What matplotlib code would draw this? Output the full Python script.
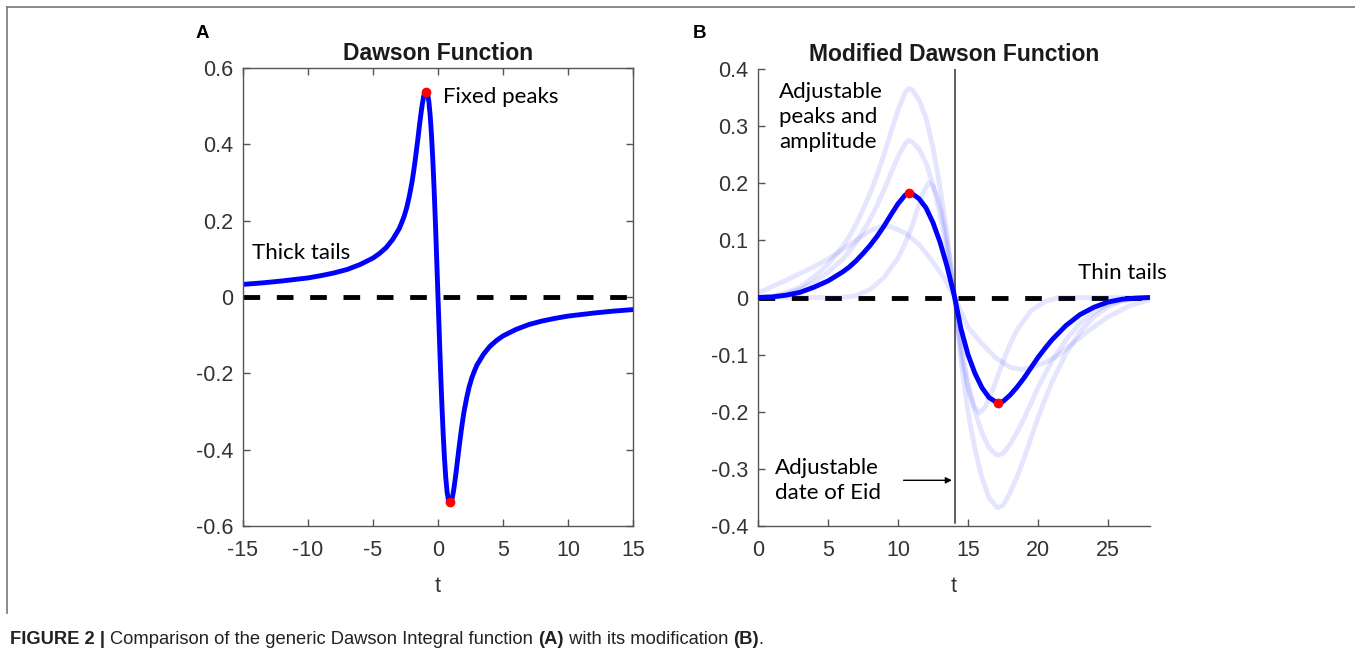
import numpy as np
import matplotlib
matplotlib.use('Agg')
import matplotlib.pyplot as plt
from matplotlib.lines import Line2D

plt.rcParams['font.family'] = ['Liberation Sans', 'DejaVu Sans']
plt.rcParams['lines.scale_dashes'] = False

# panel A: Dawson function
t_a = [-15, -13.5, -12, -10, -9, -8, -7, -6, -5, -4.5, -4, -3.5, -3, -2.8, -2.6, -2.4, -2.2, -2, -1.9, -1.8, -1.7,
       -1.6, -1.5, -1.4, -1.3, -1.2, -1.1, -1.0, -0.92, -0.8, -0.7, -0.6, -0.5, -0.4, -0.3, -0.2, -0.1, 0,
       0.1, 0.2, 0.3, 0.4, 0.5, 0.6, 0.7, 0.8, 0.92, 1.0, 1.1, 1.2, 1.3, 1.4, 1.5, 1.6, 1.7, 1.8, 1.9, 2,
       2.2, 2.4, 2.6, 2.8, 3, 3.5, 4, 4.5, 5, 6, 7, 8, 9, 10, 12, 13.5, 15]
y_a = [0.033, 0.037, 0.042, 0.050, 0.056, 0.063, 0.072, 0.085, 0.102, 0.114, 0.129, 0.150, 0.178, 0.194, 0.212,
       0.235, 0.265, 0.301, 0.323, 0.347, 0.373, 0.400, 0.428, 0.457, 0.483, 0.507, 0.526, 0.538, 0.541, 0.532,
       0.511, 0.475, 0.424, 0.360, 0.283, 0.195, 0.099, 0.0,
       -0.099, -0.195, -0.283, -0.360, -0.424, -0.475, -0.511, -0.532, -0.541, -0.538, -0.526, -0.507, -0.483,
       -0.457, -0.428, -0.400, -0.373, -0.347, -0.323, -0.301, -0.265, -0.235, -0.212, -0.194, -0.178, -0.150,
       -0.129, -0.114, -0.102, -0.085, -0.072, -0.063, -0.056, -0.050, -0.042, -0.037, -0.033]
peaks_a_t = [-0.92, 0.92]
peaks_a_y = [0.537, -0.537]

# panel B: modified Dawson function (main curve and faded variants)
t_b = [0, 1, 2, 3, 4, 5, 6, 6.5, 7, 7.5, 8, 8.5, 9, 9.5, 10, 10.5, 10.75, 11, 11.5, 12, 12.5, 13, 13.5, 14.05,
       14.5, 15, 15.5, 16, 16.5, 17, 17.15, 17.5, 18, 18.5, 19, 19.5, 20, 20.5, 21, 22, 23, 24, 25, 26, 27, 28]
y_b = [0.0, 0.001, 0.004, 0.009, 0.018, 0.029, 0.044, 0.053, 0.064, 0.077, 0.091, 0.107, 0.125, 0.145, 0.164,
       0.179, 0.183, 0.182, 0.173, 0.157, 0.131, 0.097, 0.055, 0.0,
       -0.055, -0.100, -0.133, -0.158, -0.175, -0.183, -0.184, -0.182, -0.171, -0.157, -0.141, -0.123, -0.105,
       -0.089, -0.074, -0.049, -0.030, -0.017, -0.008, -0.003, -0.001, 0.0]
y_big = [0.0, 0.002, 0.008, 0.018, 0.036, 0.058, 0.088, 0.106, 0.128, 0.154, 0.182, 0.214, 0.250, 0.290, 0.328,
         0.358, 0.366, 0.364, 0.346, 0.314, 0.262, 0.194, 0.110, 0.0,
         -0.110, -0.200, -0.266, -0.316, -0.350, -0.366, -0.368, -0.364, -0.342, -0.314, -0.282, -0.246, -0.210,
         -0.178, -0.148, -0.098, -0.060, -0.034, -0.016, -0.006, -0.002, 0.0]
y_mid = [0.0, 0.0015, 0.006, 0.014, 0.027, 0.044, 0.066, 0.080, 0.096, 0.116, 0.137, 0.161, 0.188, 0.218, 0.246,
         0.269, 0.275, 0.273, 0.260, 0.236, 0.197, 0.146, 0.083, 0.0,
         -0.083, -0.150, -0.200, -0.237, -0.263, -0.275, -0.276, -0.273, -0.257, -0.236, -0.212, -0.185, -0.158,
         -0.134, -0.111, -0.074, -0.045, -0.026, -0.012, -0.005, -0.0015, 0.0]
t_c = [0, 6, 7, 8, 9, 10, 10.5, 11, 11.4, 11.8, 12.2, 12.5, 12.8, 13.1, 13.4, 13.7, 14.05, 14.3, 14.6, 15, 15.4,
       15.8, 16.2, 16.6, 17, 17.5, 18, 18.5, 19.5, 20.5, 21.5, 28]
y_c = [0.0, 0.0, 0.003, 0.014, 0.035, 0.069, 0.094, 0.125, 0.155, 0.184, 0.201, 0.195, 0.178, 0.151, 0.113, 0.066,
       0.0, -0.059, -0.111, -0.158, -0.190, -0.202, -0.193, -0.172, -0.146, -0.112, -0.082, -0.057, -0.023, -0.007,
       0.0, 0.0]
t_d = [0, 2, 4, 5, 6, 7, 8, 8.85, 9.5, 10.5, 11.5, 12.5, 13.3, 14.05, 15, 16, 17, 18, 18.8, 19.6, 20.5, 21.5,
       22.5, 23.5, 25, 26.5, 28]
y_d = [0.008, 0.030, 0.054, 0.067, 0.083, 0.100, 0.117, 0.125, 0.124, 0.113, 0.093, 0.062, 0.034, 0.0,
       -0.052, -0.081, -0.106, -0.122, -0.126, -0.122, -0.114, -0.100, -0.080, -0.060, -0.034, -0.015, -0.004]
peaks_b_t = [10.75, 17.15]
peaks_b_y = [0.183, -0.184]
eid_t = 14.05

fig = plt.figure(figsize=(13.55, 6.6), dpi=100)
W, H = 1355, 660

def px_axes(x0, y0, x1, y1):
    return fig.add_axes([x0 / W, 1 - y1 / H, (x1 - x0) / W, (y1 - y0) / H])

tick_col = '#333333'
ann_font = ['Lato', 'DejaVu Sans']
blue = '#0000ff'
faded = (0.0, 0.0, 1.0, 0.1)
lw = 3.5

# ---- panel A ----
ax1 = px_axes(243, 68, 633, 526)
ax1.plot([-15, 15], [0, 0], color='black', lw=lw, dashes=(12, 12))
ax1.plot(t_a, y_a, color=blue, lw=lw)
ax1.plot(peaks_a_t, peaks_a_y, 'o', color='red', ms=7, mec='none')
ax1.set_xlim(-15, 15)
ax1.set_ylim(-0.6, 0.6)
ax1.set_xticks([-15, -10, -5, 0, 5, 10, 15])
ax1.set_xticklabels(['-15', '-10', '-5', '0', '5', '10', '15'])
ax1.set_yticks([-0.6, -0.4, -0.2, 0, 0.2, 0.4, 0.6])
ax1.set_yticklabels(['-0.6', '-0.4', '-0.2', '0', '0.2', '0.4', '0.6'])
ax1.tick_params(direction='in', length=5, width=1, colors='#555555', labelcolor=tick_col, labelsize=15.5,
                top=True, right=True, pad=7)
ax1.tick_params(axis='x', pad=10)
for s in ax1.spines.values():
    s.set_color('#555555')
    s.set_linewidth(1)
ax1.set_xlabel('t', fontsize=15.5, color=tick_col, labelpad=11)
ax1.set_title('Dawson Function', fontsize=16.5, fontweight='bold', color='#1a1a1a', pad=6)
ax1.text(-14.3, 0.115, 'Thick tails', fontsize=16, family=ann_font, va='center', ha='left', color='black')
ax1.text(0.4, 0.524, 'Fixed peaks', fontsize=16, family=ann_font, va='center', ha='left', color='black')

# ---- panel B ----
ax2 = px_axes(758, 69, 1150, 526)
ax2.plot([0, 28], [0, 0], color='black', lw=lw, dashes=(12, 12), zorder=1)
ax2.plot(t_b, y_big, color=faded, lw=lw, zorder=2)
ax2.plot(t_b, y_mid, color=faded, lw=lw, zorder=2)
ax2.plot(t_c, y_c, color=faded, lw=lw, zorder=2)
ax2.plot(t_d, y_d, color=faded, lw=lw, zorder=2)
ax2.plot(t_b, y_b, color=blue, lw=lw, zorder=3)
ax2.plot(peaks_b_t, peaks_b_y, 'o', color='red', ms=7, mec='none', zorder=4)
ax2.plot([eid_t, eid_t], [-0.395, 0.4], color='#333333', lw=1.1, zorder=2)
ax2.annotate('', xy=(eid_t, -0.32), xytext=(10.2, -0.32),
             arrowprops=dict(arrowstyle='-|>', color='black', lw=1, mutation_scale=9))
ax2.set_xlim(0, 28)
ax2.set_ylim(-0.4, 0.4)
ax2.set_xticks([0, 5, 10, 15, 20, 25])
ax2.set_yticks([-0.4, -0.3, -0.2, -0.1, 0, 0.1, 0.2, 0.3, 0.4])
ax2.set_yticklabels(['-0.4', '-0.3', '-0.2', '-0.1', '0', '0.1', '0.2', '0.3', '0.4'])
ax2.tick_params(direction='in', length=5, width=1, colors='#555555', labelcolor=tick_col, labelsize=15.5, pad=7)
ax2.tick_params(axis='x', pad=10)
ax2.spines['top'].set_visible(False)
ax2.spines['right'].set_visible(False)
for s in ('left', 'bottom'):
    ax2.spines[s].set_color('#555555')
    ax2.spines[s].set_linewidth(1)
ax2.set_xlabel('t', fontsize=15.5, color=tick_col, labelpad=11)
ax2.set_title('Modified Dawson Function', fontsize=16.5, fontweight='bold', color='#1a1a1a', pad=6)
ax2.text(1.5, 0.316, 'Adjustable\npeaks and\namplitude', fontsize=16, family=ann_font, va='center', ha='left',
         linespacing=1.3)
ax2.text(1.2, -0.32, 'Adjustable\ndate of Eid', fontsize=16, family=ann_font, va='center', ha='left',
         linespacing=1.3)
ax2.text(29.2, 0.043, 'Thin tails', fontsize=16, family=ann_font, va='center', ha='right', clip_on=False)

# panel letters
fig.text(202 / W, 1 - 34 / H, 'A', fontsize=13.5, fontweight='bold', ha='center', va='center')
fig.text(700 / W, 1 - 34 / H, 'B', fontsize=13.5, fontweight='bold', ha='center', va='center')

# frame lines
fig.add_artist(Line2D([7 / W, 7 / W], [1 - 7 / H, 1 - 613 / H], color='#777777', lw=1.2))
fig.add_artist(Line2D([7 / W, 1], [1 - 7 / H, 1 - 7 / H], color='#777777', lw=1.2))

# caption, pieces in bold / regular
pieces = [('FIGURE 2 | ', 'bold'), ('Comparison of the generic Dawson Integral function ', 'normal'),
          ('(A)', 'bold'), (' with its modification ', 'normal'), ('(B)', 'bold'), ('.', 'normal')]
renderer = fig.canvas.get_renderer()
x = 10 / W
for txt, wt in pieces:
    t = fig.text(x, 1 - 640 / H, txt, fontsize=13.2, fontweight=wt, va='center', ha='left', color='#222222')
    bb = t.get_window_extent(renderer)
    x = bb.x1 / W

fig.savefig('out.png', dpi=100)
